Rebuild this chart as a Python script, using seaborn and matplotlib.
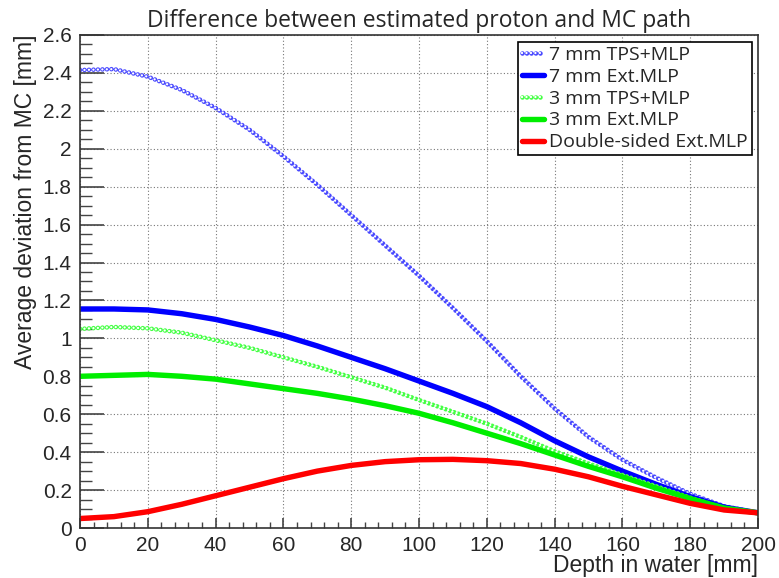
import numpy as np
import matplotlib.pyplot as plt
import seaborn as sns
import pandas as pd
from matplotlib.ticker import MultipleLocator

sns.set_style("white")
plt.rcParams['font.family'] = ['Liberation Sans', 'DejaVu Sans']

# depth in water [mm]
depth = [0, 10, 20, 30, 40, 50, 60, 70, 80, 90, 100,
         110, 120, 130, 140, 150, 160, 170, 180, 190, 200]

# average deviation from MC [mm]
tps_7mm = [2.415, 2.42, 2.38, 2.31, 2.215, 2.10, 1.96, 1.81, 1.65, 1.49, 1.33,
           1.16, 0.985, 0.80, 0.63, 0.48, 0.36, 0.265, 0.18, 0.115, 0.08]
ext_7mm = [1.155, 1.155, 1.15, 1.13, 1.10, 1.06, 1.015, 0.96, 0.90, 0.84, 0.775,
           0.71, 0.64, 0.555, 0.46, 0.375, 0.30, 0.23, 0.165, 0.11, 0.08]
tps_3mm = [1.05, 1.06, 1.053, 1.03, 0.99, 0.95, 0.90, 0.85, 0.795, 0.74, 0.675,
           0.613, 0.55, 0.48, 0.405, 0.34, 0.28, 0.22, 0.16, 0.105, 0.08]
ext_3mm = [0.80, 0.805, 0.81, 0.80, 0.785, 0.76, 0.735, 0.71, 0.68, 0.645, 0.605,
           0.555, 0.50, 0.445, 0.385, 0.325, 0.27, 0.21, 0.155, 0.105, 0.08]
ext_double = [0.05, 0.06, 0.086, 0.125, 0.17, 0.215, 0.26, 0.30, 0.33, 0.35, 0.36,
              0.362, 0.355, 0.34, 0.31, 0.27, 0.22, 0.175, 0.13, 0.095, 0.08]

labels = ["7 mm TPS+MLP", "7 mm Ext.MLP", "3 mm TPS+MLP",
          "3 mm Ext.MLP", "Double-sided Ext.MLP"]

df = pd.DataFrame(dict(depth=depth, tps7=tps_7mm, ext7=ext_7mm,
                       tps3=tps_3mm, ext3=ext_3mm, dbl=ext_double))

fig = plt.figure(figsize=(7.79, 5.78), dpi=100)
ax = fig.add_axes([0.1027, 0.0865, 0.8704, 0.853])

gap = 3.2  # spacing between open circles, in points


def circles(col, color):
    # open circle markers emulated by a ring-shaped dotted line
    lw_out, lw_in = 3.3, 1.7
    sns.lineplot(data=df, x="depth", y=col, ax=ax, color=color, lw=lw_out,
                 linestyle=(0, (0.01, gap / lw_out)), dash_capstyle="round",
                 estimator=None, sort=False)
    sns.lineplot(data=df, x="depth", y=col, ax=ax, color="white", lw=lw_in,
                 linestyle=(0, (0.01, gap / lw_in)), dash_capstyle="round",
                 estimator=None, sort=False)
    return (ax.lines[-2], ax.lines[-1])


def solid(col, color):
    sns.lineplot(data=df, x="depth", y=col, ax=ax, color=color, lw=3.9,
                 estimator=None, sort=False, solid_joinstyle="round")
    return ax.lines[-1]


handles = [circles("tps7", "#4848ff"),
           solid("ext7", "#0000ff"),
           circles("tps3", "#44ff44"),
           solid("ext3", "#00ee00"),
           solid("dbl", "#ff0000")]

ax.set_xlim(0, 200)
ax.set_ylim(0, 2.6)
ax.xaxis.set_major_locator(MultipleLocator(20))
ax.xaxis.set_minor_locator(MultipleLocator(4))
ax.yaxis.set_major_locator(MultipleLocator(0.2))
ax.yaxis.set_minor_locator(MultipleLocator(0.05))
ax.yaxis.set_major_formatter(plt.FuncFormatter(lambda v, p: f"{v:.1f}".rstrip("0").rstrip(".") if v else "0"))

ax.grid(True, which="major", color="#777777", lw=0.8, linestyle=(0, (1, 2)))
ax.tick_params(axis="x", which="major", direction="in", length=7, width=1.2,
               color="#444444", labelsize=15, pad=6)
ax.tick_params(axis="x", which="minor", direction="in", length=4, width=1.0,
               color="#444444")
ax.tick_params(axis="y", which="major", direction="in", length=17, width=1.2,
               color="#444444", labelsize=15, pad=6)
ax.tick_params(axis="y", which="minor", direction="in", length=8.5, width=1.0,
               color="#444444")
ax.tick_params(bottom=True, left=True, which="both")
for s in ax.spines.values():
    s.set_color("#333333")
    s.set_linewidth(1.2)

ax.set_xlabel("Depth in water [mm]", loc="right", fontsize=16.5, labelpad=-1)
ax.set_ylabel("Average deviation from MC [mm]", loc="top", fontsize=16.5, labelpad=4)
ax.set_title("Difference between estimated proton and MC path",
             fontsize=16.5, family=["Open Sans", "DejaVu Sans"], pad=6)

leg = ax.legend(handles, labels, loc="upper right", bbox_to_anchor=(0.991, 0.986),
                fancybox=False, framealpha=1, edgecolor="black",
                prop=dict(family=["Open Sans", "DejaVu Sans"], size=14),
                handlelength=1.1, handletextpad=0.3, borderpad=0.2,
                labelspacing=0.2, borderaxespad=0)
leg.get_frame().set_linewidth(1.2)

fig.savefig("out.png", dpi=100)
